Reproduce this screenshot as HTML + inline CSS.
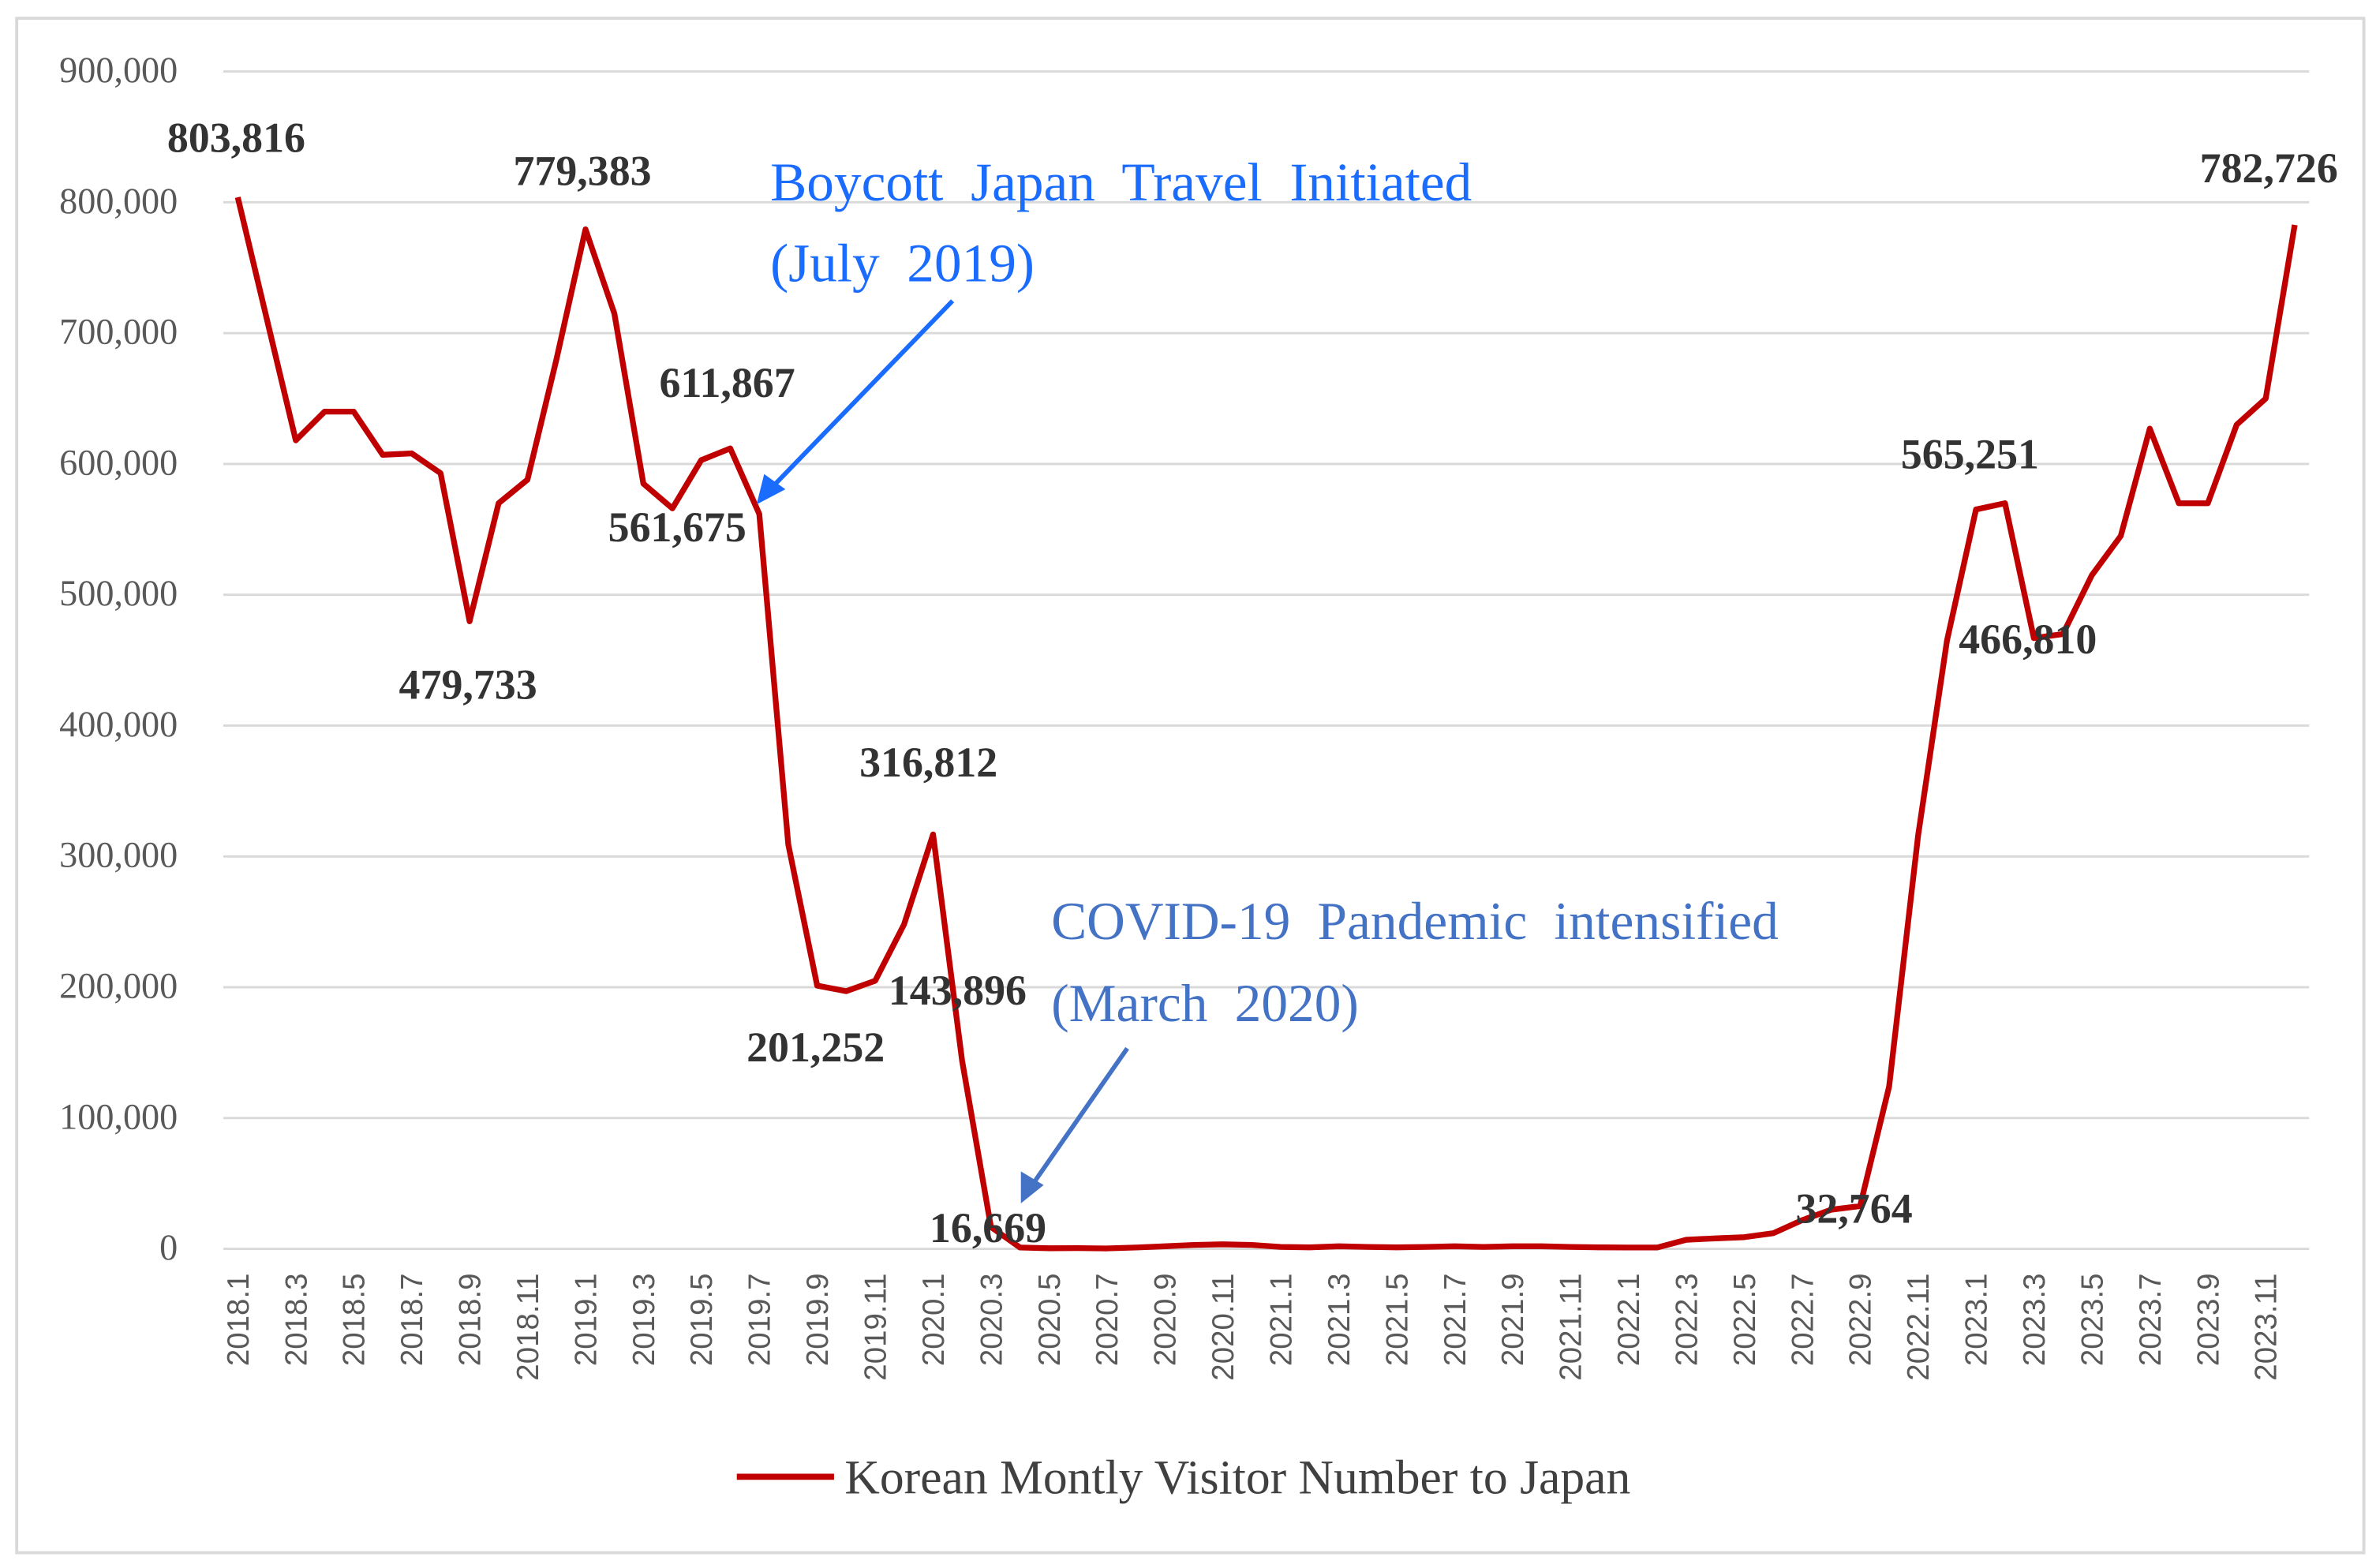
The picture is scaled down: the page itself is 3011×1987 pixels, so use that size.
<!DOCTYPE html>
<html><head><meta charset="utf-8"><style>
html,body{margin:0;padding:0;background:#fff;}
svg{display:block;}
</style></head><body>
<svg id="chart" width="3011" height="1987" viewBox="0 0 1564 1032" xmlns="http://www.w3.org/2000/svg">
<rect x="11" y="12" width="1545" height="1010" fill="#fff" stroke="#d9d9d9" stroke-width="2"/>
<g id="grid"></g>
<g id="ylabels"></g>
<g id="xlabels"></g>
<path id="series" fill="none" stroke="#c00000" stroke-width="3.8" stroke-linejoin="round"/>
<g id="dlabels"></g>
<g font-family="Liberation Serif, serif" font-size="36" fill="#1a6cff" word-spacing="9">
<text x="507" y="132">Boycott Japan Travel Initiated</text>
<text x="507" y="185">(July 2019)</text>
<line x1="627" y1="198" x2="505" y2="324" stroke="#1a6cff" stroke-width="3"/>
<polygon points="498,332 503,312 517,322" fill="#1a6cff"/>
</g>
<g font-family="Liberation Serif, serif" font-size="35" fill="#4472c4" word-spacing="9">
<text x="692" y="618">COVID-19 Pandemic intensified</text>
<text x="692" y="672">(March 2020)</text>
<line x1="742" y1="690" x2="678" y2="782" stroke="#4472c4" stroke-width="3"/>
<polygon points="672,792 672,771 687,780" fill="#4472c4"/>
</g>
<g>
<line x1="485" y1="972" x2="549" y2="972" stroke="#c00000" stroke-width="4"/>
<text x="556" y="983" font-family="Liberation Serif, serif" font-size="32" fill="#404040">Korean Montly Visitor Number to Japan</text>
</g>
</svg>
<script>
const months = [];
for (let y = 2018; y <= 2023; y++) for (let m = 1; m <= 12; m++) months.push(y + '.' + m);
const visitors = [
803816,711000,618000,640000,640000,607000,608000,593000,479733,570000,588000,680000,
779383,715000,585000,566000,603000,611867,561675,309000,201252,197000,205000,248000,
316812,143896,16669,1000,500,600,400,1000,2000,3000,3500,3000,
1500,1200,2000,1500,1200,1500,2000,1500,2000,2000,1500,1200,
1000,1000,7000,8000,9000,12000,22000,30000,32764,124000,316000,465000,
565251,570000,466810,470000,515000,545000,627000,570000,570000,630000,650000,782726];
const yTicks = [0,100000,200000,300000,400000,500000,600000,700000,800000,900000];
const annotated = [
 {i:0,text:'803,816',dx:-1,dy:-30},{i:12,text:'779,383',dx:-2,dy:-29},
 {i:17,text:'611,867',dx:-2,dy:-34},{i:18,text:'561,675',dx:-54,dy:18},
 {i:8,text:'479,733',dx:-1,dy:51},{i:24,text:'316,812',dx:-3,dy:-38},
 {i:20,text:'201,252',dx:-1,dy:50},{i:25,text:'143,896',dx:-3,dy:-37},
 {i:26,text:'16,669',dx:-2,dy:10},{i:56,text:'32,764',dx:-4,dy:11},
 {i:60,text:'565,251',dx:-4,dy:-27},{i:62,text:'466,810',dx:-4,dy:10},
 {i:71,text:'782,726',dx:-17,dy:-28}];
const NS='http://www.w3.org/2000/svg';
const X0=147,X1=1520,Y0=822,Y9=47;
const band=(X1-X0)/months.length;
function xs(i){return X0+band*(i+0.5);}
function ys(v){return Y0-(v/900000)*(Y0-Y9);}
function mk(tag,attrs,parent){const e=document.createElementNS(NS,tag);for(const k in attrs)e.setAttribute(k,attrs[k]);parent.appendChild(e);return e;}
const grid=document.getElementById('grid'),yl=document.getElementById('ylabels'),xl=document.getElementById('xlabels'),dl=document.getElementById('dlabels');
yTicks.forEach(t=>{
 const l=mk('line',{x1:X0,x2:X1,y1:ys(t),y2:ys(t),stroke:'#d9d9d9','stroke-width':1.5},grid);
 
 
 const tx=mk('text',{x:117,y:ys(t)+7,'text-anchor':'end','font-family':'Liberation Serif, serif','font-size':24,fill:'#595959'},yl);
 tx.textContent=t.toLocaleString('en-US');
 
 
});
months.forEach((m,i)=>{
 if(i%2) return;
 const x=xs(i);
 const t=mk('text',{transform:`translate(${x+7},838) rotate(-90)`,'text-anchor':'end','font-family':'Liberation Sans, sans-serif','font-size':20,fill:'#595959'},xl);
 t.textContent=m;
 
 
});
document.getElementById('series').setAttribute('d',visitors.map((v,i)=>(i?'L':'M')+xs(i).toFixed(1)+','+ys(v).toFixed(1)).join(''));
annotated.forEach(a=>{
 const t=mk('text',{x:xs(a.i)+a.dx,y:ys(visitors[a.i])+a.dy,'text-anchor':'middle','font-family':'Liberation Serif, serif','font-size':28,'font-weight':'bold',fill:'#333'},dl);
 t.textContent=a.text;
 
 
});
</script>
</body></html>
